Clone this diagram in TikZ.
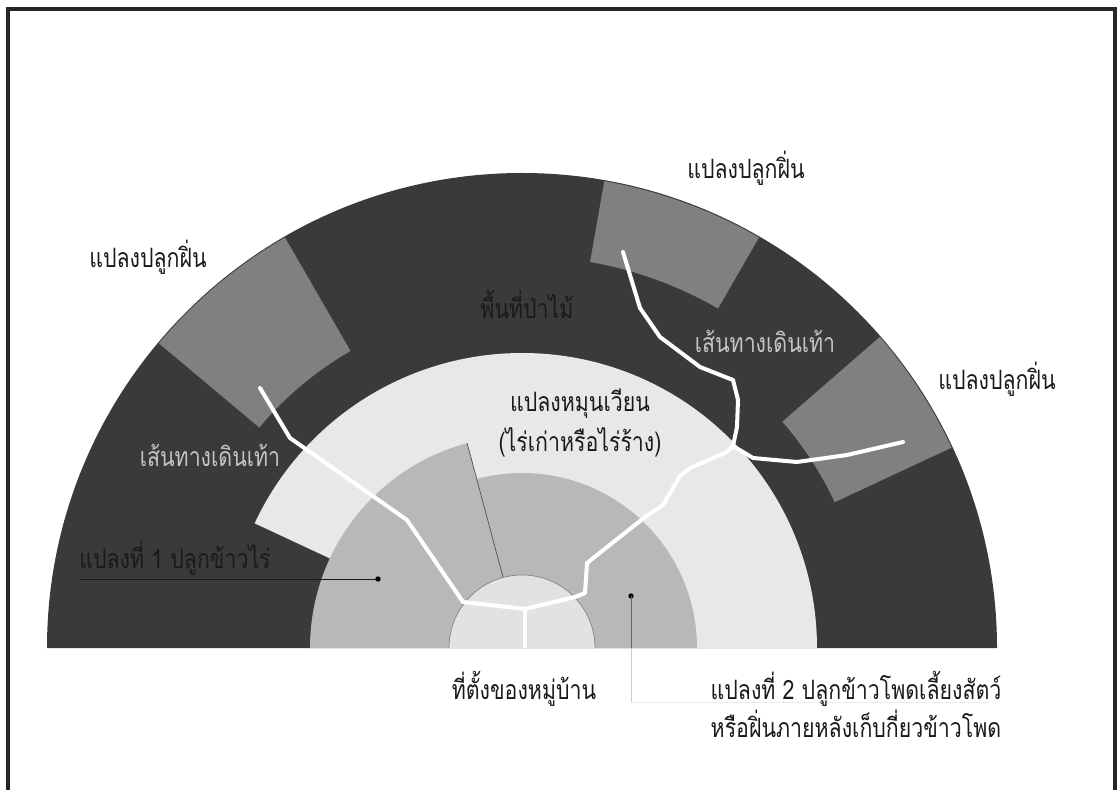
\documentclass[tikz,border=0pt]{standalone}
\usepackage{fontspec}
\newfontfamily\thai[Script=Thai,FakeStretch=0.8]{Loma}
\definecolor{forest}{HTML}{3A3A3A}
\definecolor{swidden}{HTML}{808080}
\definecolor{rotation}{HTML}{E8E8E8}
\definecolor{plotgrey}{HTML}{B8B8B8}
\definecolor{village}{HTML}{E2E2E2}
\definecolor{darktext}{HTML}{1A1A1A}
\definecolor{pathtext}{HTML}{C4C4C4}
\tikzset{
  lbl/.style={font=\thai\fontsize{20}{24}\selectfont, anchor=base, inner sep=0pt, text=darktext},
  pathlbl/.style={lbl, text=pathtext},
  footpath/.style={white, line width=3pt, line join=round, line cap=round},
  leader/.style={line width=0.6pt},
  dotnode/.style={circle, fill=black, inner sep=0pt, minimum size=4pt},
  frameline/.style={line width=2.4pt, black!85}
}
\begin{document}
\begin{tikzpicture}[x=0.75pt,y=0.75pt]
\useasboundingbox (0,0) rectangle (1118,790);
% frame
\draw[frameline] (8,0) -- (8,781) -- (1115,781) -- (1115,0);
\coordinate (C) at (522,142);
% forest (dark semicircle)
\fill[forest] (47,142) arc[start angle=180, end angle=0, radius=475] -- cycle;
% swidden plots
\fill[swidden] ([shift={(120:343)}]C) arc[start angle=120,end angle=140,radius=343]
   -- ([shift={(140:474)}]C) arc[start angle=140,end angle=120,radius=474] -- cycle;
\fill[swidden] ([shift={(60:392)}]C) arc[start angle=60,end angle=80,radius=392]
   -- ([shift={(80:474)}]C) arc[start angle=80,end angle=60,radius=474] -- cycle;
\fill[swidden] ([shift={(25:345)}]C) arc[start angle=25,end angle=41,radius=345]
   -- ([shift={(41:474)}]C) arc[start angle=41,end angle=25,radius=474] -- cycle;
% rotation plots
\fill[rotation] (C) -- ([shift={(0:295)}]C) arc[start angle=0,end angle=155,radius=295] -- cycle;
% plot 1 and plot 2
\fill[plotgrey] (C) -- ([shift={(105:212)}]C) arc[start angle=105,end angle=180,radius=212] -- cycle;
\fill[plotgrey] (C) -- ([shift={(0:175)}]C) arc[start angle=0,end angle=105,radius=175] -- cycle;
\draw[gray!60!black, line width=0.5pt] ([shift={(105:73)}]C) -- ([shift={(105:212)}]C);
% village
\fill[village] ([shift={(0:73)}]C) arc[start angle=0,end angle=180,radius=73] -- cycle;
\draw[gray, line width=0.5pt] ([shift={(0:73)}]C) arc[start angle=0,end angle=180,radius=73];
% footpaths
\coordinate (J) at (733,344);
\coordinate (V) at (525,181);
\coordinate (Vb) at (525,142);
\coordinate (P1) at (260,402);
\coordinate (P2) at (623,538);
\coordinate (P3) at (903,348);
\draw[footpath] (P1) -- (290,352) -- (407,270) -- (463,188) -- (V) -- (575,193) -- (585,197)
   -- (587,227) -- (645,273) -- (663,285) -- (680,314) -- (690,322) -- (727,338) -- (J);
\draw[footpath] (J) -- (737,363) -- (738,390) -- (733,410) -- (700,423) -- (660,453) -- (640,482) -- (P2);
\draw[footpath] (J) -- (753,332) -- (797,328) -- (847,335) -- (P3);
\draw[footpath, line cap=butt] (V) -- (Vb);
% leaders
\node[dotnode] (d1) at (378,211) {};
\coordinate (l1) at (79,211);
\draw[leader, darktext] (d1.center) -- (l1);
\node[dotnode] (d2) at (631,194) {};
\coordinate (l2a) at (631,142);
\coordinate (l2b) at (631,88);
\coordinate (l2c) at (989,88);
\draw[leader, gray!80!black] (d2.center) -- (l2a);
\draw[leader, black!20] (l2a) -- (l2b);
\draw[leader, black!8] (l2b) -- (l2c);
% labels
\node[lbl] (s1) at (148,522) {แปลงปลูกฝิ่น};
\node[lbl] (s2) at (746,611) {แปลงปลูกฝิ่น};
\node[lbl] (s3) at (997,400) {แปลงปลูกฝิ่น};
\node[lbl] (forestlbl) at (527,471) {พื้นที่ป่าไม้};
\node[pathlbl] (fp1) at (210,323) {เส้นทางเดินเท้า};
\node[pathlbl] (fp2) at (765,437) {เส้นทางเดินเท้า};
\node[lbl] (rot1) at (580,378) {แปลงหมุนเวียน};
\node[lbl] (rot2) at (580,338) {(ไร่เก่าหรือไร่ร้าง)};
\node[lbl] (p1) at (175,221) {แปลงที่ 1 ปลูกข้าวไร่};
\node[lbl] (vil) at (524,91) {ที่ตั้งของหมู่บ้าน};
\node[lbl] (p2a) at (856,91) {แปลงที่ 2 ปลูกข้าวโพดเลี้ยงสัตว์};
\node[lbl] (p2b) at (856,53) {หรือฝิ่นภายหลังเก็บกี่ยวข้าวโพด};
\end{tikzpicture}
\end{document}
